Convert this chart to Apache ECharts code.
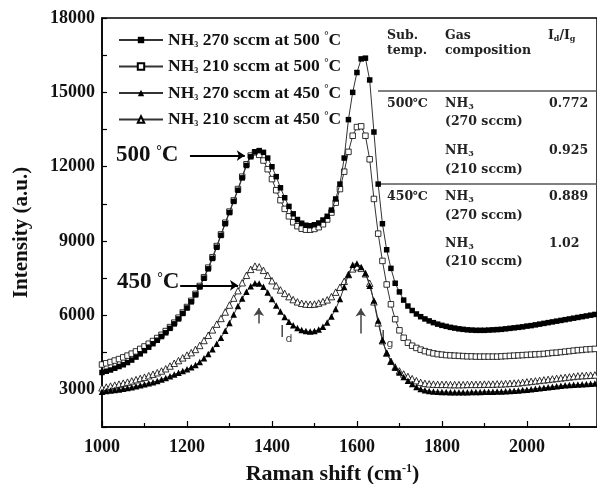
<!DOCTYPE html>
<html>
<head>
<meta charset="utf-8">
<script src="https://cdn.jsdelivr.net/npm/echarts@6/dist/echarts.min.js"></script>
<style>
  html, body { margin: 0; padding: 0; background: #fff; }
  #chart { width: 597px; height: 484px; }
</style>
</head>
<body>
<div id="chart"></div>
<script>
// Raman shift (cm-1), every 10 from 1000 to 2160
const shifts = [
  1000, 1010, 1020, 1030, 1040, 1050, 1060, 1070, 1080, 1090,
  1100, 1110, 1120, 1130, 1140, 1150, 1160, 1170, 1180, 1190,
  1200, 1210, 1220, 1230, 1240, 1250, 1260, 1270, 1280, 1290,
  1300, 1310, 1320, 1330, 1340, 1350, 1360, 1370, 1380, 1390,
  1400, 1410, 1420, 1430, 1440, 1450, 1460, 1470, 1480, 1490,
  1500, 1510, 1520, 1530, 1540, 1550, 1560, 1570, 1580, 1590,
  1600, 1610, 1620, 1630, 1640, 1650, 1660, 1670, 1680, 1690,
  1700, 1710, 1720, 1730, 1740, 1750, 1760, 1770, 1780, 1790,
  1800, 1810, 1820, 1830, 1840, 1850, 1860, 1870, 1880, 1890,
  1900, 1910, 1920, 1930, 1940, 1950, 1960, 1970, 1980, 1990,
  2000, 2010, 2020, 2030, 2040, 2050, 2060, 2070, 2080, 2090,
  2100, 2110, 2120, 2130, 2140, 2150, 2160
]

// NH3 270 sccm at 500 C
const nh270at500 = [
  3700, 3750, 3800, 3870, 3940, 4010, 4100, 4200, 4320, 4450,
  4580, 4720, 4860, 5000, 5150, 5300, 5480, 5660, 5860, 6080,
  6300, 6550, 6830, 7150, 7500, 7880, 8300, 8750, 9230, 9700,
  10150, 10600, 11050, 11550, 12050, 12400, 12600, 12650, 12580, 12350,
  12000, 11600, 11150, 10750, 10400, 10100, 9870, 9720, 9640, 9620,
  9660, 9730, 9850, 10000, 10250, 10700, 11300, 12350, 13900, 15000,
  15800, 16350, 16380, 15500, 13400, 11300, 9700, 8650, 7900, 7300,
  6950, 6620, 6380, 6200, 6060, 5950, 5860, 5780, 5710, 5650,
  5600, 5560, 5520, 5490, 5460, 5440, 5420, 5410, 5400, 5400,
  5400, 5410, 5420, 5430, 5440, 5460, 5480, 5500, 5520, 5540,
  5570, 5590, 5620, 5650, 5680, 5710, 5740, 5770, 5800, 5830,
  5860, 5890, 5920, 5950, 5980, 6010, 6040
]

// NH3 210 sccm at 500 C
const nh210at500 = [
  4020, 4070, 4120, 4180, 4240, 4310, 4380, 4460, 4550, 4650,
  4750, 4860, 4970, 5090, 5220, 5370, 5530, 5710, 5910, 6120,
  6340, 6590, 6870, 7190, 7540, 7930, 8350, 8800, 9270, 9740,
  10190, 10640, 11100, 11600, 12100, 12450, 12580, 12480, 12250, 11900,
  11500, 11050, 10650, 10300, 10000, 9760, 9600, 9500, 9460, 9460,
  9490, 9560, 9680, 9870, 10150, 10550, 11100, 11800, 12600, 13250,
  13600, 13630, 13250, 12300, 10700, 9300, 8200, 7250, 6450, 5850,
  5400, 5100, 4900, 4780, 4690, 4620, 4560, 4510, 4470, 4440,
  4420, 4400, 4390, 4380, 4370, 4360, 4350, 4350, 4340, 4340,
  4340, 4340, 4340, 4340, 4350, 4360, 4370, 4380, 4390, 4400,
  4410, 4420, 4430, 4440, 4450, 4470, 4490, 4500, 4520, 4540,
  4560, 4580, 4600, 4610, 4630, 4640, 4650
]

// NH3 270 sccm at 450 C
const nh270at450 = [
  2920, 2950, 2970, 2990, 3010, 3040, 3070, 3100, 3140, 3180,
  3220, 3260, 3310, 3360, 3420, 3480, 3550, 3620, 3690, 3760,
  3830, 3910, 4000, 4120, 4270, 4440, 4640, 4860, 5100, 5380,
  5700, 6040, 6380, 6680, 6960, 7180, 7300, 7290, 7160, 6930,
  6660, 6400, 6160, 5940, 5750, 5600, 5490, 5410, 5370, 5350,
  5370, 5430, 5540, 5720, 5960, 6260, 6660, 7150, 7650, 8050,
  8100, 7950, 7700, 7200, 6600, 5800, 5000, 4500, 4150, 3900,
  3700, 3520, 3370, 3230, 3110, 3030, 2980, 2950, 2930, 2920,
  2910, 2910, 2900, 2900, 2900, 2900, 2900, 2910, 2910, 2910,
  2920, 2920, 2920, 2930, 2930, 2940, 2950, 2960, 2970, 2990,
  3000, 3020, 3040, 3060, 3080, 3100, 3120, 3140, 3160, 3180,
  3190, 3200, 3210, 3220, 3230, 3240, 3250
]

// NH3 210 sccm at 450 C
const nh210at450 = [
  3080, 3110, 3150, 3190, 3230, 3270, 3310, 3360, 3410, 3460,
  3510, 3570, 3630, 3690, 3760, 3850, 3960, 4070, 4180, 4290,
  4400, 4500, 4630, 4790, 4990, 5200, 5420, 5650, 5880, 6140,
  6420, 6700, 7000, 7320, 7620, 7860, 7990, 7960, 7820, 7620,
  7400, 7200, 7030, 6890, 6760, 6640, 6550, 6490, 6460, 6450,
  6460, 6500, 6560, 6630, 6760, 6940, 7140, 7380, 7650, 7880,
  7960, 7900, 7680, 7300, 6550, 5700, 4980, 4480, 4150, 3920,
  3760, 3640, 3540, 3450, 3370, 3300, 3260, 3240, 3230, 3220,
  3220, 3220, 3210, 3210, 3210, 3210, 3220, 3220, 3220, 3220,
  3230, 3230, 3230, 3240, 3240, 3250, 3260, 3270, 3280, 3300,
  3320, 3340, 3360, 3380, 3400, 3420, 3440, 3460, 3480, 3500,
  3520, 3540, 3560, 3570, 3580, 3590, 3600
]

const seriesNames = [
  'NH3 270 sccm at 500 °C',
  'NH3 210 sccm at 500 °C',
  'NH3 270 sccm at 450 °C',
  'NH3 210 sccm at 450 °C'
]

const serif = 'Liberation Serif'
const tableFamily = 'DejaVu Serif'

function pairs(values) {
  return shifts.map(function (x, i) { return [x, values[i]] })
}

function makeSeries(name, values, symbol, filled, size) {
  return {
    name: name,
    type: 'line',
    data: pairs(values),
    symbol: symbol,
    symbolSize: size,
    showAllSymbol: true,
    lineStyle: { color: '#333', width: 1 },
    itemStyle: {
      color: filled ? '#000' : '#fff',
      borderColor: '#000',
      borderWidth: filled ? 0 : 0.8
    },
    z: filled ? 3 : 2
  }
}

const series = [
  makeSeries(seriesNames[0], nh270at500, 'rect', true, 5.5),
  makeSeries(seriesNames[1], nh210at500, 'rect', false, 5.5),
  makeSeries(seriesNames[2], nh270at450, 'triangle', true, 6.5),
  makeSeries(seriesNames[3], nh210at450, 'triangle', false, 6.5)
]

// arrows of the figure
series[0].markLine = {
  silent: true,
  animation: false,
  symbol: ['none', 'arrow'],
  symbolSize: 8,
  label: { show: false },
  lineStyle: { color: '#000', width: 2, type: 'solid' },
  data: [
    [{ coord: [1207, 12450] }, { coord: [1336, 12450] }],
    [{ coord: [1184, 7216] }, { coord: [1320, 7216] }],
    [{ coord: [1369, 5680] }, { coord: [1369, 6300], lineStyle: { color: '#444', width: 1.5 } }],
    [{ coord: [1609, 5270] }, { coord: [1609, 6280], lineStyle: { color: '#444', width: 1.5 } }]
  ]
}

const chart = echarts.init(document.getElementById('chart'))

const tickFont = { fontFamily: serif, fontWeight: 'bold', fontSize: 18, color: '#111' }
const tableFont = { fontFamily: tableFamily, fontWeight: 'bold', fontSize: 12.5, fill: '#222' }

function tableText(x, y, text, rich) {
  return {
    type: 'text',
    left: x,
    top: y - 8,
    style: Object.assign({ text: text, rich: rich }, tableFont)
  }
}

const subRich = {
  n: { fontFamily: tableFamily, fontWeight: 'bold', fontSize: 12.5, fill: '#222' },
  s: { fontFamily: tableFamily, fontWeight: 'bold', fontSize: 8, fill: '#222', padding: [7, 0, 0, 0] }
}

chart.setOption({
  backgroundColor: '#ffffff',
  animation: false,
  grid: {
    left: 102,
    right: 0,
    top: 18,
    bottom: 57,
    outerBoundsMode: 'none',
    containLabel: false,
    show: true,
    borderColor: '#000',
    borderWidth: 1.5
  },
  legend: {
    orient: 'vertical',
    left: 113,
    top: 26,
    itemWidth: 44,
    itemHeight: 8,
    itemGap: 8.5,
    data: seriesNames,
    formatter: function (name) {
      const m = name.match(/NH3 (.*) °C/)
      return '{t|NH}{s|3}{t| ' + m[1] + ' }{d|°}{t|C}'
    },
    textStyle: {
      rich: {
        t: { fontFamily: serif, fontWeight: 'bold', fontSize: 17.5, color: '#111', lineHeight: 18 },
        s: { fontFamily: serif, fontWeight: 'bold', fontSize: 8, color: '#111', lineHeight: 18, padding: [9, 0, 0, 0] },
        d: { fontFamily: serif, fontWeight: 'bold', fontSize: 11, color: '#111', lineHeight: 18, padding: [0, 0, 7, 0] }
      }
    }
  },
  xAxis: {
    type: 'value',
    min: 1000,
    max: 2165,
    interval: 200,
    name: '{a|Raman shift (cm}{s|-1}{a|)}',
    nameLocation: 'middle',
    nameGap: 36,
    nameTextStyle: {
      padding: [0, 34, 0, 0],
      rich: {
        a: { fontFamily: serif, fontWeight: 'bold', fontSize: 22, color: '#111' },
        s: { fontFamily: serif, fontWeight: 'bold', fontSize: 12, color: '#111', padding: [0, 0, 10, 0] }
      }
    },
    axisLine: { show: true, lineStyle: { color: '#000', width: 1.5 } },
    axisTick: { show: true, inside: true, length: 6, lineStyle: { color: '#000', width: 1.2 } },
    minorTick: { show: true, splitNumber: 2, length: 4, lineStyle: { color: '#000', width: 1.2 } },
    axisLabel: Object.assign({
      margin: 11,
      showMaxLabel: false,
      formatter: function (v) { return v % 200 === 0 ? String(v) : '' }
    }, tickFont),
    splitLine: { show: false }
  },
  yAxis: {
    type: 'value',
    min: 1500,
    max: 18000,
    interval: 1500,
    name: 'Intensity (a.u.)',
    nameLocation: 'middle',
    nameGap: 70,
    nameTextStyle: { fontFamily: serif, fontWeight: 'bold', fontSize: 21, color: '#111', padding: [0, 20, 0, 0] },
    axisLine: { show: true, lineStyle: { color: '#000', width: 1.5 } },
    axisTick: { show: true, inside: true, length: 5, lineStyle: { color: '#000', width: 1.2 } },
    axisLabel: Object.assign({
      margin: 7,
      formatter: function (v) { return v % 3000 === 0 ? String(v) : '' }
    }, tickFont),
    splitLine: { show: false }
  },
  graphic: [
    // peak labels
    {
      type: 'text', left: 116, top: 144,
      style: {
        text: '{t|500 }{d|°}{t|C}',
        rich: {
          t: { fontFamily: serif, fontWeight: 'bold', fontSize: 23, fill: '#111' },
          d: { fontFamily: serif, fontWeight: 'bold', fontSize: 14, fill: '#111', padding: [0, 0, 9, 0] }
        }
      }
    },
    {
      type: 'text', left: 117, top: 271,
      style: {
        text: '{t|450 }{d|°}{t|C}',
        rich: {
          t: { fontFamily: serif, fontWeight: 'bold', fontSize: 23, fill: '#111' },
          d: { fontFamily: serif, fontWeight: 'bold', fontSize: 14, fill: '#111', padding: [0, 0, 9, 0] }
        }
      }
    },
    // I_d and I_g marks
    {
      type: 'text', left: 280, top: 326,
      style: {
        text: '{i|I}{s|d}',
        rich: {
          i: { fontFamily: 'DejaVu Sans', fontSize: 15, fill: '#444' },
          s: { fontFamily: 'DejaVu Sans', fontSize: 11, fill: '#444', padding: [12, 0, 0, 1] }
        }
      }
    },
    {
      type: 'text', left: 381, top: 331,
      style: {
        text: '{i|I}{s|g}',
        rich: {
          i: { fontFamily: 'DejaVu Sans', fontSize: 15, fill: '#444' },
          s: { fontFamily: 'DejaVu Sans', fontSize: 11, fill: '#444', padding: [12, 0, 0, 1] }
        }
      }
    },
    // table rules
    { type: 'line', shape: { x1: 378, y1: 91, x2: 597, y2: 91 }, style: { stroke: '#555', lineWidth: 1.5 } },
    { type: 'line', shape: { x1: 378, y1: 184, x2: 597, y2: 184 }, style: { stroke: '#555', lineWidth: 1.5 } },
    // table header
    tableText(387, 37, 'Sub.'),
    tableText(387, 52, 'temp.'),
    tableText(445, 37, 'Gas'),
    tableText(445, 52, 'composition'),
    tableText(548, 37, '{n|I}{s|d}{n|/I}{s|g}', subRich),
    // table rows
    tableText(387, 105, '500℃'),
    tableText(445, 105, '{n|NH}{s|3}', subRich),
    tableText(445, 123, '(270 sccm)'),
    tableText(549, 105, '0.772'),
    tableText(445, 152, '{n|NH}{s|3}', subRich),
    tableText(445, 171, '(210 sccm)'),
    tableText(549, 152, '0.925'),
    tableText(387, 198, '450℃'),
    tableText(445, 198, '{n|NH}{s|3}', subRich),
    tableText(445, 217, '(270 sccm)'),
    tableText(549, 198, '0.889'),
    tableText(445, 245, '{n|NH}{s|3}', subRich),
    tableText(445, 263, '(210 sccm)'),
    tableText(549, 245, '1.02')
  ],
  series: series
})
</script>
</body>
</html>
